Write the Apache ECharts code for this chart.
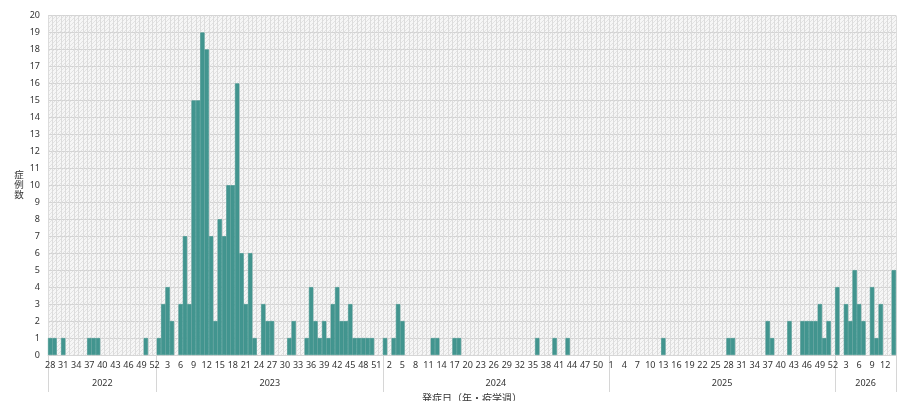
<!DOCTYPE html>
<html><head><meta charset="utf-8">
<script src="https://cdn.jsdelivr.net/npm/echarts@6/dist/echarts.min.js"></script>
<style>html,body{margin:0;padding:0;background:#fff}#c{width:907px;height:401px}</style>
</head><body><div id="c"></div>
<script>
// ---- data ----
const years = ['2022', '2023', '2024', '2025', '2026'];
const firstWeek = [28, 1, 1, 1, 1];
const lastWeek = [52, 52, 52, 52, 14];
const cases2022 = [1,1,0,1,0,0,0,0,0,1,1,1,0,0,0,0,0,0,0,0,0,0,1,0,0];
const cases2023 = [1,3,4,2,0,3,7,3,15,15,19,18,7,2,8,7,10,10,16,6,3,6,1,0,3,2,2,0,0,0,1,2,0,0,1,4,2,1,2,1,3,4,2,2,3,1,1,1,1,1,0,0];
const cases2024 = [1,0,1,3,2,0,0,0,0,0,0,1,1,0,0,0,1,1,0,0,0,0,0,0,0,0,0,0,0,0,0,0,0,0,0,1,0,0,0,1,0,0,1,0,0,0,0,0,0,0,0,0];
const cases2025 = [0,0,0,0,0,0,0,0,0,0,0,0,1,0,0,0,0,0,0,0,0,0,0,0,0,0,0,1,1,0,0,0,0,0,0,0,2,1,0,0,0,2,0,0,2,2,2,2,3,1,2,0];
const cases2026 = [4,0,3,2,5,3,2,0,4,1,3,0,0,5];
const yTicks = {min: 0, max: 20, step: 1};
const yName = '症例数';
const xName = '発症日（年・疫学週）';

// ---- build ----
const casesByYear = [cases2022, cases2023, cases2024, cases2025, cases2026];
const categories = [];
const values = [];
const yearBounds = [0];
const yearCenters = [];
years.forEach((y, i) => {
  const start = categories.length;
  for (let w = firstWeek[i]; w <= lastWeek[i]; w++) {
    categories.push(y + '-' + w);
    values.push(casesByYear[i][w - firstWeek[i]]);
  }
  yearBounds.push(categories.length);
  yearCenters.push((start + categories.length) / 2);
});
const total = categories.length;

// hatched background pattern
const pc = document.createElement('canvas');
pc.width = 4; pc.height = 4;
const g = pc.getContext('2d');
g.fillStyle = '#f6f6f6'; g.fillRect(0, 0, 4, 4);
g.strokeStyle = '#e2e2e2'; g.lineWidth = 1;
g.beginPath(); g.moveTo(0, 4); g.lineTo(4, 0); g.stroke();

const font = "'Noto Sans', 'Noto Sans CJK JP', sans-serif";
const barColor = '#42958f';
const chart = echarts.init(document.getElementById('c'), null, {renderer: 'canvas'});
chart.setOption({
  animation: false,
  backgroundColor: '#fff',
  textStyle: {fontFamily: font},
  grid: {left: 48, right: 11, top: 15.5, bottom: 46, show: true, containLabel: false,
         outerBoundsMode: 'none',
         backgroundColor: {image: pc, repeat: 'repeat'}, borderWidth: 0},
  xAxis: [{
    type: 'category', data: categories, position: 'bottom',
    axisLine: {show: true, lineStyle: {color: '#d6d6d6'}},
    axisTick: {show: false},
    axisLabel: {interval: 2, margin: 6, fontSize: 9, color: '#333', fontFamily: font,
                formatter: v => v.split('-')[1]},
    splitLine: {show: true, interval: 0, lineStyle: {color: '#dcdcdc', width: 1}}
  }, {
    type: 'value', min: 0, max: total, position: 'bottom',
    axisLine: {show: false},
    axisTick: {show: true, length: 37, lineStyle: {color: '#d6d6d6'}, customValues: yearBounds},
    axisLabel: {customValues: yearCenters, margin: 24, fontSize: 9, color: '#333', fontFamily: font,
                formatter: v => { for (let i = 0; i < years.length; i++) if (v >= yearBounds[i] && v <= yearBounds[i+1]) return years[i]; return ''; }},
    splitLine: {show: false},
    name: xName, nameLocation: 'middle', nameGap: 39,
    nameTextStyle: {fontSize: 10, color: '#333', fontFamily: font}
  }],
  yAxis: {
    type: 'value', min: yTicks.min, max: yTicks.max, interval: yTicks.step,
    axisLine: {show: false}, axisTick: {show: false},
    axisLabel: {fontSize: 9, color: '#333', margin: 8, fontFamily: font},
    splitLine: {show: true, lineStyle: {color: '#d4d4d4', width: 1}},
    name: yName.split('').join('\n'), nameLocation: 'middle', nameRotate: 0, nameGap: 26,
    nameTextStyle: {fontSize: 9.5, lineHeight: 10, color: '#333', fontFamily: font, align: 'center', verticalAlign: 'middle'}
  },
  series: [{
    type: 'bar', data: values.map(v => v === 0 ? '-' : v), xAxisIndex: 0, barCategoryGap: 0, barGap: 0,
    itemStyle: {color: barColor, borderColor: barColor, borderWidth: 0.6}
  }]
});
</script></body></html>
